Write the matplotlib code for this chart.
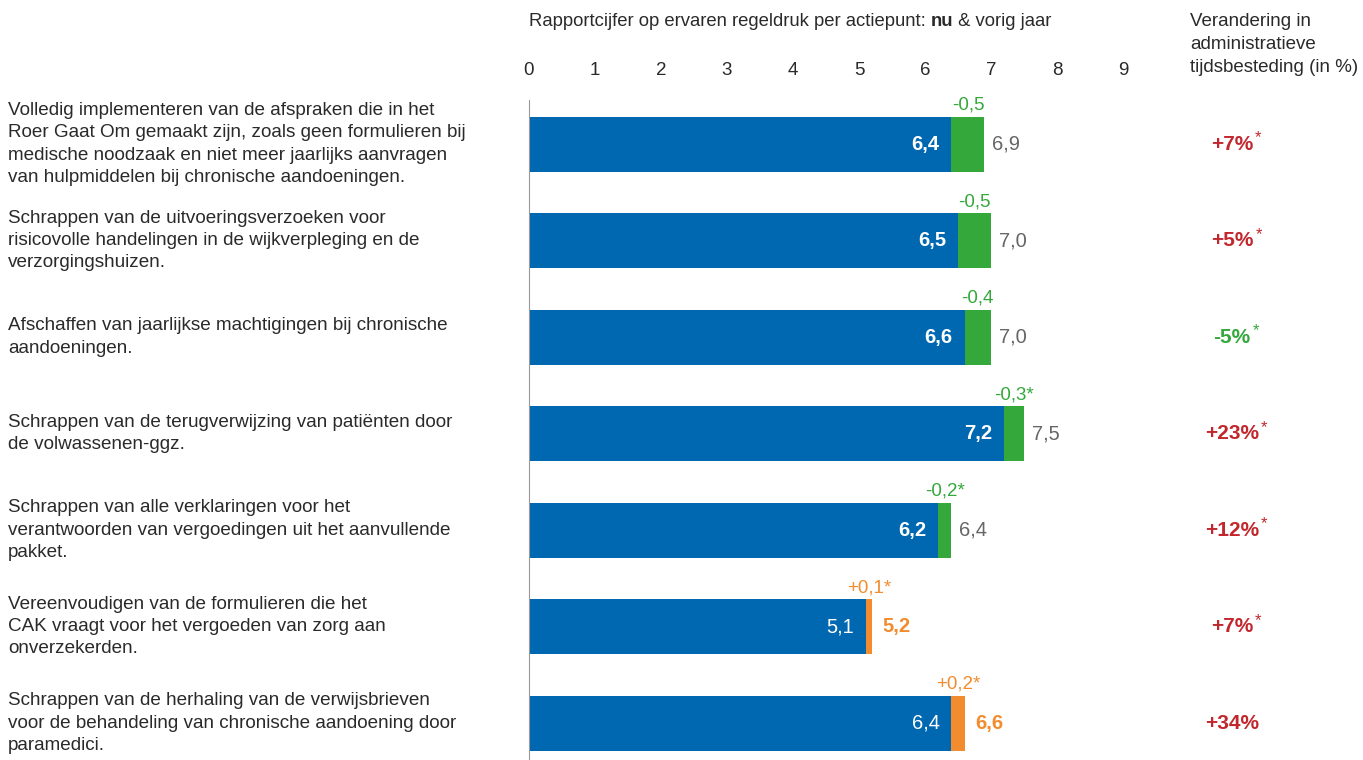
import matplotlib.pyplot as plt

plt.rcParams['font.family'] = ['Liberation Sans', 'DejaVu Sans']

# data
actiepunten = [
    "Volledig implementeren van de afspraken die in het\nRoer Gaat Om gemaakt zijn, zoals geen formulieren bij\nmedische noodzaak en niet meer jaarlijks aanvragen\nvan hulpmiddelen bij chronische aandoeningen.",
    "Schrappen van de uitvoeringsverzoeken voor\nrisicovolle handelingen in de wijkverpleging en de\nverzorgingshuizen.",
    "Afschaffen van jaarlijkse machtigingen bij chronische\naandoeningen.",
    "Schrappen van de terugverwijzing van patiënten door\nde volwassenen-ggz.",
    "Schrappen van alle verklaringen voor het\nverantwoorden van vergoedingen uit het aanvullende\npakket.",
    "Vereenvoudigen van de formulieren die het\nCAK vraagt voor het vergoeden van zorg aan\nonverzekerden.",
    "Schrappen van de herhaling van de verwijsbrieven\nvoor de behandeling van chronische aandoening door\nparamedici.",
]
nu = [6.4, 6.5, 6.6, 7.2, 6.2, 5.2, 6.6]
vorig_jaar = [6.9, 7.0, 7.0, 7.5, 6.4, 5.1, 6.4]
verschil_sig = [False, False, False, True, True, True, True]
tijd_verandering = [7, 5, -5, 23, 12, 7, 34]
tijd_sig = [True, True, True, True, True, True, False]
ticks = [0, 1, 2, 3, 4, 5, 6, 7, 8, 9]

BLAUW = '#0067b1'
GROEN = '#35a83b'
ORANJE = '#f28c2e'
ROOD = '#c1272d'
GRIJS = '#666666'
TEKST = '#2a2a2a'

W, H = 1363, 760
fig = plt.figure(figsize=(W / 100, H / 100), dpi=100)
# assenvlak: x 0..9, verticale lijn vanaf ~100 px tot onderrand
ax = fig.add_axes([529 / W, 0, 594 / W, 660 / H])
ax.set_xlim(0, 9)
ax.set_ylim(6.383, -0.456)

for s in ['top', 'right', 'bottom']:
    ax.spines[s].set_visible(False)
ax.spines['left'].set_color('#999999')
ax.spines['left'].set_linewidth(0.8)
ax.set_yticks([])
ax.xaxis.tick_top()
ax.set_xticks(ticks)
ax.set_xticklabels([str(t) for t in ticks], fontsize=13.5, color=TEKST)
ax.tick_params(axis='x', length=0, pad=15)

fmt = lambda v: f"{v:.1f}".replace('.', ',')
bh = 0.57
for i in range(len(nu)):
    lo = min(nu[i], vorig_jaar[i])
    hi = max(nu[i], vorig_jaar[i])
    daling = nu[i] < vorig_jaar[i]
    kleur = GROEN if daling else ORANJE
    ax.barh(i, lo, height=bh, color=BLAUW)
    ax.barh(i, hi - lo, left=lo, height=bh, color=kleur)
    if daling:
        ax.text(lo - 0.18, i, fmt(nu[i]), ha='right', va='center', color='white',
                fontsize=14.5, fontweight='bold')
        ax.text(hi + 0.12, i, fmt(vorig_jaar[i]), ha='left', va='center', color=GRIJS,
                fontsize=14.5)
    else:
        ax.text(lo - 0.18, i, fmt(vorig_jaar[i]), ha='right', va='center', color='white',
                fontsize=14.5)
        ax.text(hi + 0.16, i, fmt(nu[i]), ha='left', va='center', color=ORANJE,
                fontsize=14.5, fontweight='bold')
    d = nu[i] - vorig_jaar[i]
    lbl = ('+' if d > 0 else '-') + fmt(abs(d)) + ('*' if verschil_sig[i] else '')
    ax.text((lo + hi) / 2, i - bh / 2 - 0.03, lbl, ha='center', va='bottom',
            color=kleur, fontsize=13.5)

    # beschrijving links
    ax.annotate(actiepunten[i], xy=(8 / W, i), xycoords=('figure fraction', 'data'),
                ha='left', va='center', fontsize=13.6, color=TEKST, linespacing=1.4)

    # tijdsbesteding rechts
    tk = ROOD if tijd_verandering[i] > 0 else GROEN
    t = ax.annotate(f"{tijd_verandering[i]:+d}%", xy=(1232 / W, i), xycoords=('figure fraction', 'data'),
                    ha='center', va='center', fontsize=15, fontweight='bold', color=tk)
    if tijd_sig[i]:
        ax.annotate('*', xy=(1, 1), xycoords=t, xytext=(1.5, 3), textcoords='offset points',
                    ha='left', va='top', fontsize=12, color=tk)

# koppen
t1 = fig.text(529 / W, 1 - 22 / H, "Rapportcijfer op ervaren regeldruk per actiepunt: ",
              ha='left', va='center', fontsize=13.3, color=TEKST)
t2 = ax.annotate("nu", xy=(1, 0), xycoords=t1, ha='left', va='bottom',
                 fontsize=13.3, fontweight='bold', color=TEKST)
ax.annotate(" & vorig jaar", xy=(1, 0), xycoords=t2, ha='left', va='bottom',
            fontsize=13.3, color=TEKST)
fig.text(1190 / W, 1 - 13 / H, "Verandering in\nadministratieve\ntijdsbesteding (in %)",
         ha='left', va='top', fontsize=13.5, color=TEKST, linespacing=1.47)

fig.savefig('out.png', dpi=100)
